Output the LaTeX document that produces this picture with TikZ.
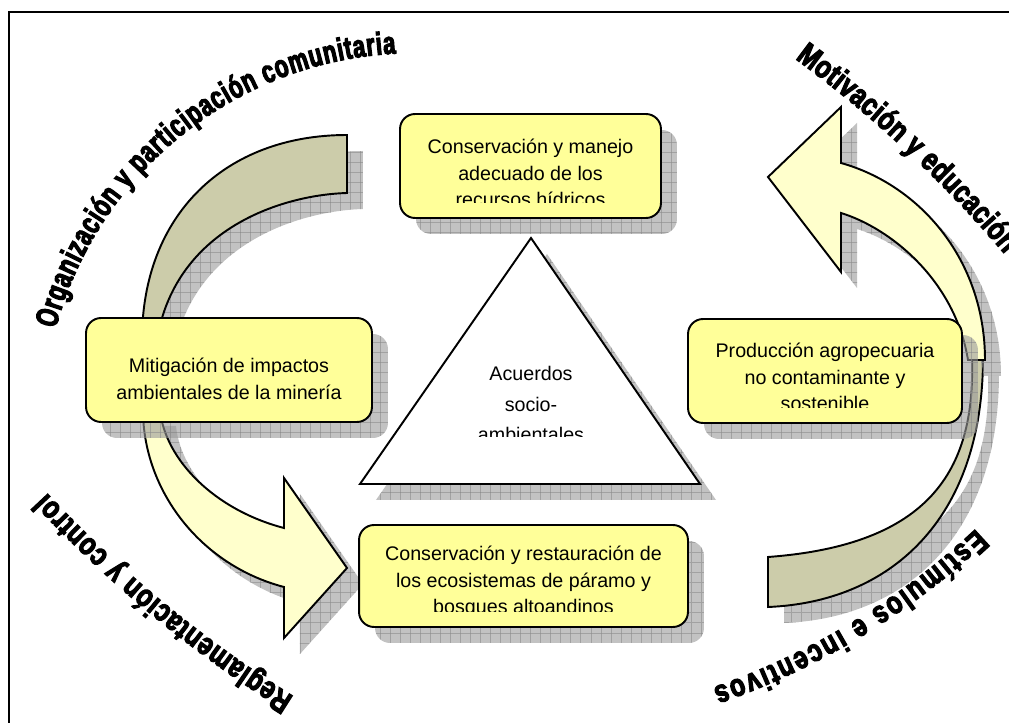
\documentclass[tikz,border=0pt]{standalone}
\usepackage{fontspec}
\setmainfont{Liberation Sans}
\newfontfamily\arte{Liberation Sans}[FakeStretch=0.78,BoldFeatures={FakeBold=3.5}]
\newfontfamily\artec{Liberation Sans}[FakeStretch=0.7,BoldFeatures={FakeBold=3.5}]
\usetikzlibrary{shadows,patterns,decorations.text}

\definecolor{amarillo}{HTML}{FFFF99}
\definecolor{crema}{HTML}{FFFFCC}
\definecolor{caqui}{HTML}{CCCCAA}

% grid used inside the shadows
\pgfdeclarepatternformonly{rejilla}{\pgfqpoint{-1pt}{-1pt}}{\pgfqpoint{6.7pt}{6.7pt}}{\pgfqpoint{5.7pt}{5.7pt}}{%
  \pgfsetlinewidth{0.4pt}
  \pgfpathmoveto{\pgfqpoint{0pt}{0pt}}\pgfpathlineto{\pgfqpoint{5.8pt}{0pt}}
  \pgfpathmoveto{\pgfqpoint{0pt}{0pt}}\pgfpathlineto{\pgfqpoint{0pt}{5.8pt}}
  \pgfusepath{stroke}}

\tikzset{
  sombra/.style={drop shadow={shadow xshift=.32cm, shadow yshift=-.32cm, opacity=.6, fill=black!40},
                 drop shadow={shadow xshift=.32cm, shadow yshift=-.32cm, opacity=.6, pattern=rejilla, pattern color=black!45}},
  caja/.style={draw, line width=1.1pt, rounded corners=.3cm, fill=amarillo, minimum height=2.08cm, inner sep=0pt, sombra},
  texto/.style={align=center, font=\fontsize{11.2}{15.2}\selectfont, inner sep=0pt},
  flecha/.style={draw, line width=1.1pt, fill=crema, sombra},
  banda/.style={draw, line width=1.1pt, fill=caqui, sombra},
  lema/.style 2 args={decorate, decoration={text along path, text align={fit to path},
      text={|#1\bfseries\fontsize{18}{18}\selectfont|#2}}}
}

\begin{document}
\begin{tikzpicture}[x=0.02cm, y=-0.02cm]
\useasboundingbox (0,0) rectangle (1009,723);
\clip (0,0) rectangle (1009,723);
\draw[line width=0.8pt] (9,12) rectangle (1030,740);

% curved bands and arrows
\path[banda] (142,340) .. controls (142,215) and (225,135) .. (347,135) -- (347,193)
  .. controls (280,195) and (175,230) .. (157,340) -- cycle;
\path[flecha] (143,410) .. controls (143,490) and (200,565) .. (284,587) -- (284,638) -- (347,568)
  -- (284,478) -- (284,528) .. controls (215,510) and (165,460) .. (160,410) -- cycle;
\path[banda] (983,360) .. controls (982,520) and (890,602) .. (768,607) -- (768,557)
  .. controls (930,545) and (975,470) .. (972,360) -- cycle;
\path[flecha] (985,360) .. controls (985,260) and (920,185) .. (841,163) -- (841,107) -- (768,177)
  -- (841,272) -- (841,213) .. controls (890,228) and (955,280) .. (968,360) -- cycle;

% triangle
\draw[line width=1.1pt, fill=white, sombra] (531,238) -- (700,484) -- (360,484) -- cycle;
\begin{scope}
  \clip (360,238) rectangle (700,436);
  \node[texto, font=\fontsize{11.2}{17.2}\selectfont] (acuerdos) at (531,404) {Acuerdos\\socio-\\ambientales};
\end{scope}

% boxes
\node[caja, minimum width=5.22cm] (agua) at (530.5,166) {};
\node[caja, minimum width=5.72cm] (mineria) at (229,370) {};
\node[caja, minimum width=5.48cm] (agro) at (825,371) {};
\node[caja, minimum width=6.58cm, minimum height=2.04cm] (paramo) at (523.5,576) {};

\begin{scope}
  \clip (agua.north west) rectangle ([yshift=.32cm]agua.south east);
  \node[texto] (agua-t) at ([yshift=-.14cm]agua.center) {Conservación y manejo\\adecuado de los\\recursos hídricos};
\end{scope}
\begin{scope}
  \clip (mineria.north west) rectangle ([yshift=.32cm]mineria.south east);
  \node[texto] (mineria-t) at ([yshift=-.18cm]mineria.center) {Mitigación de impactos\\ambientales de la minería};
\end{scope}
\begin{scope}
  \clip (agro.north west) rectangle ([yshift=.32cm]agro.south east);
  \node[texto] (agro-t) at ([yshift=-.12cm]agro.center) {Producción agropecuaria\\no contaminante y\\sostenible};
\end{scope}
\begin{scope}
  \clip (paramo.north west) rectangle ([yshift=.32cm]paramo.south east);
  \node[texto] (paramo-t) at ([yshift=-.12cm]paramo.center) {Conservación y restauración de\\los ecosistemas de páramo y\\bosques altoandinos};
\end{scope}

% curved titles
\path[lema={\artec}{Organización y participación comunitaria}] ([shift={(195:372)}]415,425) arc[start angle=195, end angle=267, radius=372];
\path[lema={\arte}{Motivación y educación}] ([shift={(-53.75:1218)}]75,1041) arc[start angle=-53.75, end angle=-40.25, radius=1218];
\path[lema={\arte}{Estímulos e incentivos}] ([shift={(46.9:742)}]469,-13) arc[start angle=46.9, end angle=70.8, radius=742];
\path[lema={\arte}{Reglamentación y control}] ([shift={(122:1227)}]944,-344) arc[start angle=122, end angle=137, radius=1227];
\end{tikzpicture}
\end{document}
